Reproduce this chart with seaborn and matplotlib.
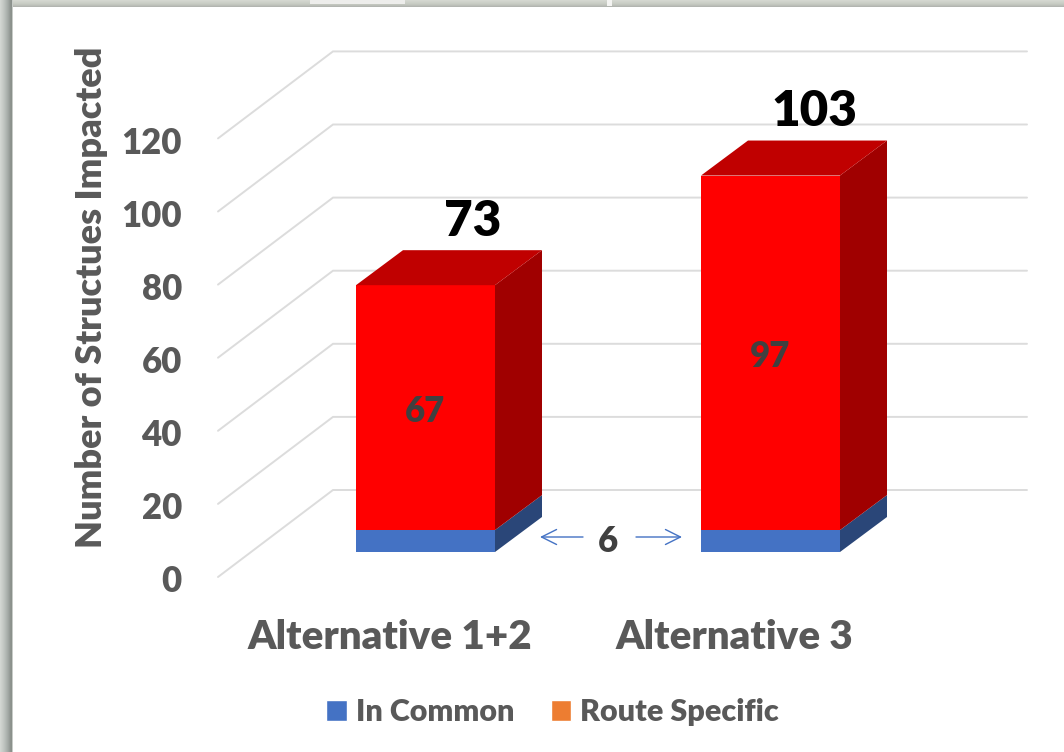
import matplotlib
matplotlib.use("Agg")
import matplotlib.pyplot as plt
import numpy as np
import pandas as pd
import seaborn as sns
from matplotlib.patches import Patch, Polygon, Rectangle
from matplotlib.transforms import Affine2D

# Chart values
alternatives = ["Alternative 1+2", "Alternative 3"]
in_common = [6, 6]
route_specific = [67, 97]
total_labels = ["73", "103"]
y_ticks = [0, 20, 40, 60, 80, 100, 120]
shared_note = "6"

BLUE, BLUE_SIDE = "#4472C4", "#2A4678"
RED, RED_TOP, RED_SIDE = "#FF0000", "#C00000", "#A00000"
ORANGE = "#ED7D31"
GREY = "#595959"
GRID = "#DCDCDC"
WEIGHT = "heavy"

W, H = 1064, 752
sns.set_theme(style="white")
plt.rcParams["font.family"] = ["Lato", "DejaVu Sans"]
plt.rcParams["font.weight"] = WEIGHT

fig = plt.figure(figsize=(W / 100, H / 100), dpi=100)

# Axes frame in pixels: the baseline sits in the plane of the bars
LEFT, RIGHT, BASE, TOP = 218, 1027, 552, 30
X0, X_STEP = 425.5, 345.0
Y_SCALE = 3.655
ax = fig.add_axes([LEFT / W, 1 - BASE / H, (RIGHT - LEFT) / W, (BASE - TOP) / H])


def px_x(px):
    return (px - X0) / X_STEP


def px_y(px):
    return (BASE - px) / Y_SCALE


frame = pd.DataFrame({"alternative": alternatives, "common": in_common, "specific": route_specific})
bar_w = 139 / X_STEP

sns.barplot(data=frame, x="alternative", y="common", color=BLUE, saturation=1,
            width=bar_w, linewidth=0, ax=ax, zorder=3)
sns.barplot(data=frame, x="alternative", y="specific", color=RED, saturation=1,
            width=bar_w, linewidth=0, bottom=frame["common"].to_numpy(), ax=ax, zorder=3)

ax.set_xlim(px_x(LEFT), px_x(RIGHT))
ax.set_ylim(0, px_y(TOP))
sns.despine(ax=ax, left=True, bottom=True)
ax.set_xlabel("")

# Wall and floor lines: diagonal from the front edge, then across the back wall
front_dy, wall_dy = 25 / Y_SCALE, 62 / Y_SCALE
for v in y_ticks:
    xs = [px_x(218), px_x(333), px_x(1027)]
    ys = [v - front_dy, v + wall_dy, v + wall_dy]
    ax.plot(xs, ys, color=GRID, lw=1.4, clip_on=False, zorder=1, solid_joinstyle="miter")

# Depth faces of each stacked column
dx, dy = 47 / X_STEP, 35 / Y_SCALE
for i in range(len(alternatives)):
    x1 = i + bar_w / 2
    x0 = i - bar_w / 2
    low, top = in_common[i], in_common[i] + route_specific[i]
    ax.add_patch(Polygon([(x1, 0), (x1 + dx, dy), (x1 + dx, low + dy), (x1, low)],
                         fc=BLUE_SIDE, ec="none", zorder=3, clip_on=False))
    ax.add_patch(Polygon([(x1, low), (x1 + dx, low + dy), (x1 + dx, top + dy), (x1, top)],
                         fc=RED_SIDE, ec="none", zorder=3, clip_on=False))
    ax.add_patch(Polygon([(x0, top), (x0 + dx, top + dy), (x1 + dx, top + dy), (x1, top)],
                         fc=RED_TOP, ec="none", zorder=3, clip_on=False))

# Value labels
inner = ax.bar_label(ax.containers[1], labels=[str(v) for v in route_specific], label_type="center",
                     color="#404040", fontsize=25, fontweight=WEIGHT, zorder=5)
for t in inner:
    t.xyann = (0, -2.5)
for i, lab in enumerate(total_labels):
    ax.text(px_x([473, 814][i]), px_y([222, 112][i]), lab, ha="center", va="center",
            color="black", fontsize=35.5, fontweight=WEIGHT, zorder=5)

# Shared-count note between the columns
ax.text(px_x(608), px_y(541), shared_note, ha="center", va="center", color="#404040",
        fontsize=25, fontweight=WEIGHT, zorder=5)
arrow = dict(arrowstyle="->,head_length=0.9,head_width=0.45", color=BLUE, lw=1, shrinkA=0, shrinkB=0)
ax.annotate("", xy=(px_x(540), px_y(537)), xytext=(px_x(583), px_y(537)), arrowprops=arrow, annotation_clip=False)
ax.annotate("", xy=(px_x(682), px_y(537)), xytext=(px_x(636), px_y(537)), arrowprops=arrow, annotation_clip=False)

# Tick labels sit on the front edge, ahead of the bar plane
ax.set_yticks(y_ticks)
ax.tick_params(axis="y", length=0, pad=26, labelsize=25, labelcolor=GREY)
ax.tick_params(axis="x", length=0, pad=48.5, labelsize=29, labelcolor=GREY)
for lab in ax.get_yticklabels():
    lab.set_transform(lab.get_transform() + Affine2D().translate(0, -27))
    lab.set_fontweight(WEIGHT)
for lab in ax.get_xticklabels():
    lab.set_transform(lab.get_transform() + Affine2D().translate(-36, 0))
    lab.set_fontweight(WEIGHT)

ax.set_ylabel("Number of Structues Impacted", fontsize=26, fontweight=WEIGHT, color=GREY)
ax.yaxis.set_label_coords((108 - LEFT) / (RIGHT - LEFT), (BASE - 297) / (BASE - TOP))

# Legend
leg = fig.legend(handles=[Patch(fc=BLUE, label="In Common"), Patch(fc=ORANGE, label="Route Specific")],
                 loc="center", bbox_to_anchor=(552.5 / W, 1 - 712 / H), ncol=2, frameon=False,
                 fontsize=22, labelcolor=GREY, handlelength=0.68, handleheight=0.68,
                 handletextpad=0.28, columnspacing=1.2)
for t in leg.get_texts():
    t.set_fontweight(WEIGHT)


def frame_strip(x, y, w, h, color):
    """Panel edge strip given in pixels from the top-left corner."""
    fig.add_artist(Rectangle((x / W, 1 - (y + h) / H), w / W, h / H,
                             transform=fig.transFigure, fc=color, ec="none"))


# Soft grey shadow along the top and left edges of the panel
left_shades = ["#D2D6D2", "#CDD1CD", "#C8CCC8", "#C2C7C3", "#BCC1BD", "#B5BBB7",
               "#AEB4B0", "#A7ADA9", "#9FA5A1", "#969C98", "#8E948F", "#8A908B", "#C8CCC8"]
top_shades = ["#D4D7D0", "#D0D3CC", "#CCD0C8", "#C8CCC4", "#C2C6BE", "#BBBEB8", "#B2B5B0"]
for k, col in enumerate(top_shades):
    frame_strip(0, k, W, 1, col)
frame_strip(310, 0, 95, 4, "#EDEDEB")
frame_strip(607, 0, 5, 6, "#F4F4F2")
for k, col in enumerate(left_shades):
    frame_strip(k, 0, 1, H, col)

fig.savefig("out.png", dpi=100)
